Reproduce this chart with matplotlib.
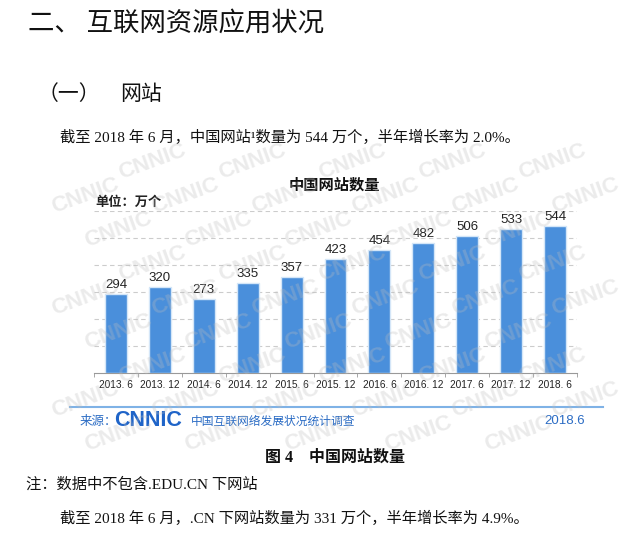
import matplotlib
matplotlib.use("Agg")
import matplotlib.pyplot as plt
import numpy as np

categories = ["2013. 6", "2013. 12", "2014. 6", "2014. 12", "2015. 6", "2015. 12",
              "2016. 6", "2016. 12", "2017. 6", "2017. 12", "2018. 6"]
values = [294, 320, 273, 335, 357, 423, 454, 482, 506, 533, 544]
yticks = [0, 100, 200, 300, 400, 500, 600]

W, H = 639, 538
fig = plt.figure(figsize=(W / 100, H / 100), dpi=100)
fig.patch.set_facecolor("white")

SANS = ["Noto Sans CJK SC", "DejaVu Sans"]
SERIF = ["Liberation Serif", "Noto Sans CJK SC"]
ARIAL = ["Liberation Sans", "Noto Sans CJK SC"]


def T(x, y, s, **kw):
    fig.text(x / W, 1 - y / H, s, **kw)


# watermarks
for r, yy in enumerate(np.arange(162, 440, 34)):
    for xx in np.arange(85 + (r % 3) * 33 - 33, 610, 100):
        if xx < 70:
            continue
        T(xx, yy, "CNNIC", fontsize=16, fontweight="bold", color="#bdbdbd",
          alpha=0.3, rotation=20, ha="center", va="center",
          family=ARIAL, zorder=5)

# document text
T(28, 23, "二、 互联网资源应用状况", fontsize=19, family=SANS, va="center", ha="left", color="#111111")
T(38, 94, "（一）", fontsize=15, family=SANS, va="center", ha="left", color="#111111")
T(120, 94, "网站", fontsize=15, family=SANS, va="center", ha="left", color="#111111")
T(60, 137, "截至 2018 年 6 月，中国网站¹数量为 544 万个，半年增长率为 2.0%。",
  fontsize=11, family=SERIF, va="center", ha="left", color="#111111")

# chart
ax = fig.add_axes([94 / W, 1 - 373 / H, (577 - 94) / W, (373 - 211) / H])
ax.set_facecolor("none")
x = np.arange(len(categories))
ax.bar(x, values, width=0.5, color="#4a8fdb", edgecolor="#d4e6f8", linewidth=1, zorder=3)
for xi, v in zip(x, values):
    ax.text(xi, v + 11, str(v), ha="center", va="bottom", fontsize=9.5,
            family=ARIAL, color="#222222", zorder=4)
ax.set_xlim(-0.5, len(categories) - 0.5)
ax.set_ylim(0, 600)
ax.set_yticks(yticks[1:])
ax.yaxis.grid(True, linestyle=(0, (4, 3)), color="#cccccc", linewidth=0.8, zorder=0)
ax.tick_params(axis="y", length=0, labelleft=False)
ax.set_xticks(x)
ax.set_xticklabels(categories, fontsize=7.3, family=ARIAL, color="#222222")
ax.set_xticks(np.arange(-0.5, len(categories), 1), minor=True)
ax.tick_params(axis="x", which="major", length=0, pad=5)
ax.tick_params(axis="x", which="minor", length=3, color="#999999")
for s in ["top", "right", "left"]:
    ax.spines[s].set_visible(False)
ax.spines["bottom"].set_color("#999999")

T(334, 185, "中国网站数量", fontsize=11, fontweight="bold", family=SANS, ha="center", va="center", color="#111111")
T(95, 202, "单位：万个", fontsize=9.5, fontweight="bold", family=SANS, ha="left", va="center", color="#222222")

# footer line
fig.add_artist(plt.Line2D([70 / W, 603 / W], [1 - 407 / H, 1 - 407 / H], color="#7fb2e6", linewidth=1.5))
T(80, 421, "来源：", fontsize=9, family=SANS, ha="left", va="center", color="#2b6cc4")
T(114, 420, "CNNIC", fontsize=15.5, fontweight="heavy", family=ARIAL, ha="left", va="center", color="#1f64c8")
T(191, 421, "中国互联网络发展状况统计调查", fontsize=8.5, family=SANS, ha="left", va="center", color="#2b6cc4")
T(585, 421, "2018.6", fontsize=9.5, family=ARIAL, ha="right", va="center", color="#2b6cc4")

T(335, 458, "图 4    中国网站数量", fontsize=11.5, fontweight="bold", family=SERIF, ha="center", va="center", color="#111111")
T(26, 484, "注：数据中不包含.EDU.CN 下网站", fontsize=11, family=SERIF, ha="left", va="center", color="#111111")
T(60, 518, "截至 2018 年 6 月，.CN 下网站数量为 331 万个，半年增长率为 4.9%。",
  fontsize=11, family=SERIF, ha="left", va="center", color="#111111")

fig.savefig("out.png", dpi=100)
